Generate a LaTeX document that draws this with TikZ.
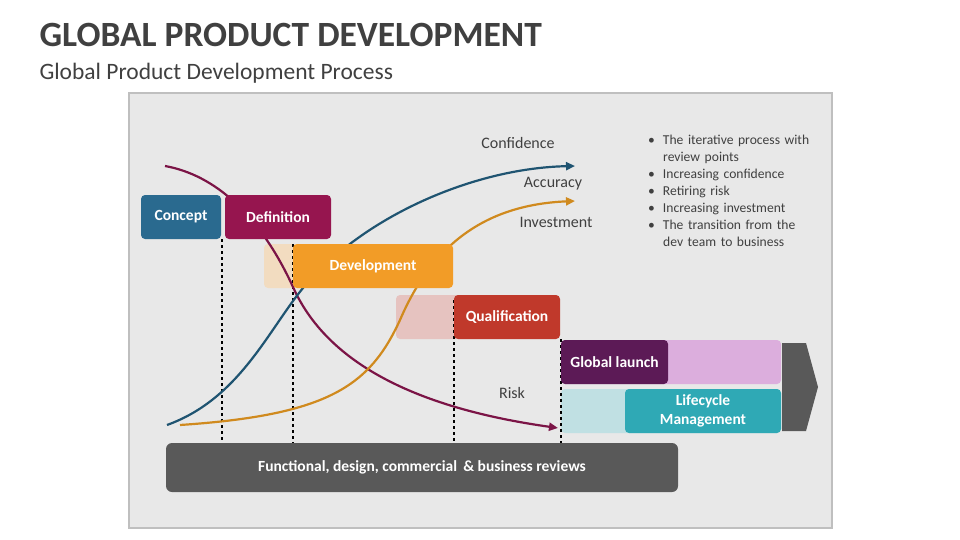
\documentclass[tikz,border=0pt]{standalone}
\usepackage{fontspec}
\setmainfont{Carlito}
\usetikzlibrary{arrows.meta}
\definecolor{conceptblue}{HTML}{2A6A8F}
\definecolor{defred}{HTML}{96154F}
\definecolor{devorange}{HTML}{F29C27}
\definecolor{devfade}{HTML}{F2DCC0}
\definecolor{qualred}{HTML}{C0392B}
\definecolor{qualfade}{HTML}{E6C3C0}
\definecolor{launchpurple}{HTML}{5C1A56}
\definecolor{launchfade}{HTML}{DCAEDD}
\definecolor{lifeteal}{HTML}{2FA9B5}
\definecolor{lifefade}{HTML}{C0E0E3}
\definecolor{darkgrey}{HTML}{595959}
\definecolor{textgrey}{HTML}{404040}
\definecolor{curveblue}{HTML}{1F5471}
\definecolor{curveorange}{HTML}{D08A1E}
\definecolor{curvepurple}{HTML}{7B1446}
\begin{document}
\begin{tikzpicture}[x=1pt,y=-1pt,
  phase/.style={rounded corners=4pt,text=white,font=\fontsize{15.5}{18}\selectfont\bfseries,align=center},
  curve/.style={line width=2.2pt,-{Triangle[length=9pt,width=8pt]}},
  review/.style={dashed,line width=1.2pt},
  lbl/.style={text=textgrey,font=\fontsize{16}{18}\selectfont}]
\useasboundingbox (0,0) rectangle (960,540);
\node[anchor=west,text=textgrey,font=\fontsize{35.5}{40}\selectfont\bfseries] (title) at (36,35) {GLOBAL PRODUCT DEVELOPMENT};
\node[anchor=west,text=textgrey,font=\fontsize{23.5}{27}\selectfont] (subtitle) at (36,73) {Global Product Development Process};
\draw[fill={rgb,255:red,232;green,232;blue,232},draw={rgb,255:red,191;green,191;blue,191},line width=2pt] (129,93) rectangle (832,528);
% faded boxes
\fill[devfade,rounded corners=4pt] (264,244) rectangle (300,288);
\fill[qualfade,rounded corners=4pt] (396,295) rectangle (460,339);
\fill[launchfade,rounded corners=4pt] (561,340) rectangle (781,384);
\fill[lifefade,rounded corners=4pt] (561,389) rectangle (781,433);
% review lines
\draw[review] (222,239) -- (222,443);
\draw[review] (293,244) -- (293,443);
\draw[review] (454,300) -- (454,443);
\draw[review] (561,339) -- (561,443);
% curves
\draw[curve,curvepurple] (165,166) .. controls (215,175) and (260,215) .. (293,287) .. controls (330,370) and (430,410) .. (558,428);
\draw[curve,curveblue] (167,425) .. controls (250,395) and (275,310) .. (320,270) .. controls (380,210) and (480,168) .. (575,166);
\draw[curve,curveorange] (180,425) .. controls (330,415) and (370,385) .. (400,320) .. controls (430,250) and (480,205) .. (575,201);
% phase boxes
\node[phase,fill=conceptblue,minimum width=80pt,minimum height=44pt] (concept) at (181,217) {Concept};
\node[phase,fill=defred,minimum width=106pt,minimum height=44pt] (definition) at (278,217) {Definition};
\node[phase,fill=devorange,minimum width=160pt,minimum height=44pt] (development) at (373,266) {Development};
\node[phase,fill=qualred,minimum width=106pt,minimum height=44pt] (qualification) at (507,317) {Qualification};
\node[phase,fill=launchpurple,minimum width=107pt,minimum height=44pt] (launch) at (614.5,362) {Global launch};
\node[phase,fill=lifeteal,minimum width=156pt,minimum height=44pt,font=\fontsize{15.5}{18.5}\selectfont\bfseries] (lifecycle) at (703,411) {Lifecycle\\Management};
\fill[darkgrey] (782,343) -- (806,343) -- (818,387) -- (806,431) -- (782,431) -- cycle;
\node[phase,fill=darkgrey,minimum width=512pt,minimum height=49pt,rounded corners=6pt] (reviews) at (422,467.5) {Functional, design, commercial \,\& business reviews};
% labels
\node[lbl] (confidence) at (518,143) {Confidence};
\node[lbl] (accuracy) at (553,184) {Accuracy};
\node[lbl] (investment) at (556,222) {Investment};
\node[lbl] (risk) at (512,393) {Risk};
\node[anchor=north west,text=textgrey,font=\fontsize{13.6}{17}\selectfont,align=left,text width=175pt,inner sep=0pt] (notes) at (648,135) {%
•\hspace{8pt}The iterative process with\\
\hspace{15pt}review points\\
•\hspace{8pt}Increasing confidence\\
•\hspace{8pt}Retiring risk\\
•\hspace{8pt}Increasing investment\\
•\hspace{8pt}The transition from the\\
\hspace{15pt}dev team to business};
\end{tikzpicture}
\end{document}
